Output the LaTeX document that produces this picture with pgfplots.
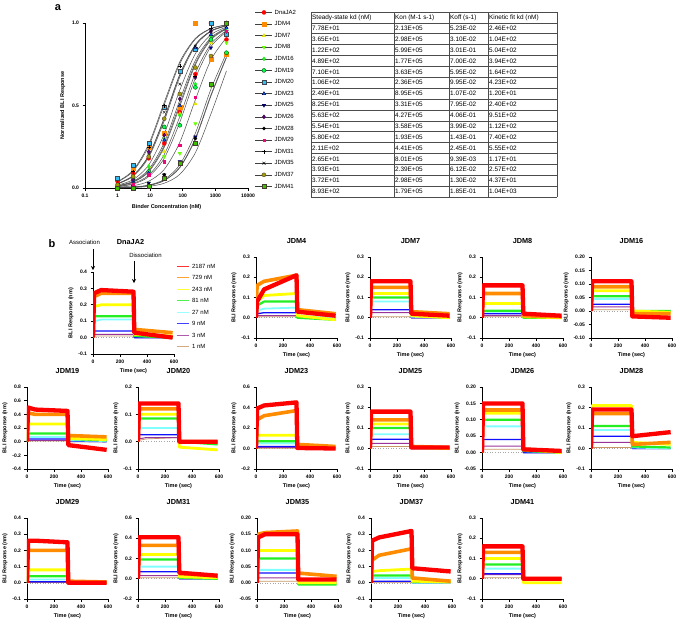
\documentclass[border=0pt]{standalone}
\usepackage{pgfplots}
\pgfplotsset{compat=1.18}
\usetikzlibrary{arrows.meta}
\usepackage{fontspec}
\setmainfont{Liberation Sans}
\definecolor{cRed}{HTML}{FF0000}
\definecolor{cOrange}{HTML}{FF8C00}
\definecolor{cYellow}{HTML}{FFFF00}
\definecolor{cGreen}{HTML}{22EE22}
\definecolor{cCyan}{HTML}{80FFFF}
\definecolor{cBlue}{HTML}{1010FF}
\definecolor{cPurple}{HTML}{993399}
\definecolor{cBrown}{HTML}{C89664}
\newcommand{\tf}{\fontsize{5}{6}\selectfont\bfseries}
\newcommand{\lf}{\fontsize{5.5}{6.5}\selectfont\bfseries}
\newcommand{\ttf}{\fontsize{7.3}{8}\selectfont\bfseries}
\newcommand{\bli}[6]{\addplot[#1] coordinates {(0,0) (8,#2) (60,#3) (300,#4) (306,#5) (590,#6)};}
\pgfplotsset{
 gp/.style={scale only axis, anchor=south west, axis lines*=left,
   axis line style={line width=0.8pt,-}, tick style={black,line width=0.8pt},
   tick align=outside, major tick length=2.5pt, tick label style={font=\tf},
   label style={font=\lf}, /pgf/number format/assume math mode=true},
 bliax/.style={gp, width=81pt, height=81pt, xmin=0, xmax=600, xtick={0,200,400,600},
   xlabel={Time (sec)}, ylabel={BLI Response (nm)}, title style={font=\ttf, yshift=4pt},
   yticklabel style={/pgf/number format/fixed,/pgf/number format/fixed zerofill,/pgf/number format/precision=1},
   xlabel style={yshift=2pt}, ylabel style={yshift=-2pt}},
 p2/.style={yticklabel style={/pgf/number format/precision=2}},
 s1/.style={color=cBrown, line width=0.7pt, line join=round},
 s3/.style={color=cPurple, line width=1pt, line join=round},
 s9/.style={color=cBlue, line width=1.3pt, line join=round},
 s27/.style={color=cCyan, line width=1.8pt, line join=round},
 s81/.style={color=cGreen, line width=2.2pt, line join=round},
 s243/.style={color=cYellow, line width=2.8pt, line join=round},
 s729/.style={color=cOrange, line width=3.6pt, line join=round},
 s2187/.style={color=cRed, line width=4.3pt, line join=round},
 zl/.style={gray!70, dotted, line width=0.6pt, forget plot},
 lg/.style={legend image code/.code={\draw[mark=none, black!75, line width=0.5pt] (0pt,0pt) -- (17pt,0pt); \draw plot coordinates {(8.5pt,0pt)};}},
 dat/.style={only marks, mark size=2pt, lg},
 fitc/.style={black!70, line width=0.5pt, smooth, forget plot},
}
\begin{document}
\begin{tikzpicture}
\path[use as bounding box] (0pt,0pt) rectangle (680pt,-625pt);
\node[font=\fontsize{11}{12}\selectfont\bfseries] at (58pt,-8pt) {a};
\node[font=\fontsize{11}{12}\selectfont\bfseries] at (52pt,-244pt) {b};
% ---------------- panel a -----------------
\begin{axis}[gp, width=163pt, height=165pt, at={(85pt,-188pt)}, xmode=log, xmin=0.1, xmax=10000, ymin=0, ymax=1,
  xtick={0.1,1,10,100,1000,10000}, xticklabels={0.1,1,10,100,1000,10000}, xminorticks=false,
  ytick={0,0.5,1}, yticklabels={0.0,0.5,1.0}, clip=false,
  xlabel={Binder Concentration (nM)}, ylabel={Normalized BLI Response},
  legend style={at={(1.043,1.085)}, anchor=north west, draw=none, fill=none, inner sep=0pt,
    font=\fontsize{6}{7}\selectfont, row sep=5.1pt, column sep=2pt,
    nodes={inner sep=0pt, text height=5pt, text depth=1.5pt}},
  legend cell align=left]
\addplot[fitc] coordinates {(1,0.013)(3,0.037)(9,0.104)(27,0.258)(81,0.510)(243,0.757)(729,0.904)(2187,0.966)};
\addplot[fitc] coordinates {(1,0.027)(3,0.076)(9,0.198)(27,0.425)(81,0.689)(243,0.869)(729,0.952)(2187,0.984)};
\addplot[fitc] coordinates {(1,0.008)(3,0.024)(9,0.069)(27,0.181)(81,0.399)(243,0.666)(729,0.857)(2187,0.947)};
\addplot[fitc] coordinates {(1,0.002)(3,0.006)(9,0.018)(27,0.052)(81,0.142)(243,0.332)(729,0.599)(2187,0.817)};
\addplot[fitc] coordinates {(1,0.014)(3,0.041)(9,0.113)(27,0.276)(81,0.533)(243,0.774)(729,0.911)(2187,0.969)};
\addplot[fitc] coordinates {(1,0.009)(3,0.028)(9,0.078)(27,0.203)(81,0.433)(243,0.696)(729,0.873)(2187,0.954)};
\addplot[fitc] coordinates {(1,0.039)(3,0.108)(9,0.266)(27,0.520)(81,0.765)(243,0.907)(729,0.967)(2187,0.989)};
\addplot[fitc] coordinates {(1,0.012)(3,0.035)(9,0.098)(27,0.247)(81,0.495)(243,0.747)(729,0.898)(2187,0.964)};
\addplot[fitc] coordinates {(1,0.002)(3,0.005)(9,0.016)(27,0.046)(81,0.126)(243,0.302)(729,0.564)(2187,0.795)};
\addplot[fitc] coordinates {(1,0.018)(3,0.051)(9,0.140)(27,0.328)(81,0.594)(243,0.814)(729,0.929)(2187,0.975)};
\addplot[fitc] coordinates {(1,0.002)(3,0.005)(9,0.015)(27,0.045)(81,0.123)(243,0.295)(729,0.557)(2187,0.790)};
\addplot[fitc] coordinates {(1,0.005)(3,0.014)(9,0.041)(27,0.113)(81,0.277)(243,0.535)(729,0.776)(2187,0.912)};
\addplot[fitc] coordinates {(1,0.036)(3,0.102)(9,0.254)(27,0.505)(81,0.754)(243,0.902)(729,0.965)(2187,0.988)};
\addplot[fitc] coordinates {(1,0.025)(3,0.071)(9,0.186)(27,0.407)(81,0.673)(243,0.861)(729,0.949)(2187,0.982)};
\addplot[fitc] coordinates {(1,0.026)(3,0.075)(9,0.195)(27,0.421)(81,0.685)(243,0.867)(729,0.952)(2187,0.983)};
\addplot[fitc] coordinates {(1,0.001)(3,0.003)(9,0.010)(27,0.029)(81,0.083)(243,0.214)(729,0.449)(2187,0.710)};
%
\addplot[dat, mark=*, color=cRed] coordinates {(1,0.04)(3,0.09)(9,0.18)(27,0.27)(81,0.46)(243,0.69)(729,1.00)(2187,0.90)};
\addlegendentry{DnaJA2}
\addplot[dat, mark=square*, color=cOrange] coordinates {(1,0.00)(3,0.12)(9,0.25)(27,0.33)(81,0.49)(243,1.00)(729,0.78)(2187,0.81)};
\addlegendentry{JDM4}
\addplot[dat, mark=triangle*, color=cYellow!90!black] coordinates {(1,0.01)(3,0.04)(9,0.13)(27,0.22)(81,0.45)(243,0.51)(729,0.88)(2187,1.00)};
\addlegendentry{JDM7}
\addplot[dat, mark=triangle*, mark options={rotate=180}, color=green!60!yellow] coordinates {(1,0.00)(3,0.01)(9,0.03)(27,0.19)(81,0.21)(243,0.39)(729,0.62)(2187,0.88)};
\addlegendentry{JDM8}
\addplot[dat, mark=diamond*, color=cGreen] coordinates {(1,0.02)(3,0.05)(9,0.13)(27,0.30)(81,0.44)(243,0.63)(729,0.92)(2187,0.95)};
\addlegendentry{JDM16}
\addplot[dat, mark=*, mark options={fill=green!70!cyan, draw=green!30!black}] coordinates {(1,0.01)(3,0.05)(9,0.10)(27,0.37)(81,0.38)(243,0.61)(729,0.90)(2187,0.82)};
\addlegendentry{JDM19}
\addplot[dat, mark=square*, mark options={fill=cyan!80!white, draw=cyan!20!black}] coordinates {(1,0.06)(3,0.14)(9,0.27)(27,0.49)(81,0.71)(243,0.84)(729,1.00)(2187,0.93)};
\addlegendentry{JDM20}
\addplot[dat, mark=triangle*, mark options={fill=blue!60!cyan, draw=blue!30!black}] coordinates {(1,0.02)(3,0.04)(9,0.09)(27,0.29)(81,0.50)(243,0.85)(729,0.93)(2187,0.97)};
\addlegendentry{JDM23}
\addplot[dat, mark=triangle*, mark options={rotate=180, fill=blue!60!black, draw=blue!30!black}] coordinates {(1,0.00)(3,0.01)(9,0.03)(27,0.08)(81,0.16)(243,0.31)(729,0.85)(2187,0.95)};
\addlegendentry{JDM25}
\addplot[dat, mark=diamond*, mark options={fill=violet!80!blue, draw=violet!40!black}] coordinates {(1,0.02)(3,0.05)(9,0.22)(27,0.32)(81,0.54)(243,0.67)(729,0.95)(2187,1.00)};
\addlegendentry{JDM26}
\addplot[dat, mark=*, mark size=1.6pt, color=black] coordinates {(1,0.00)(3,0.01)(9,0.02)(27,0.08)(81,0.15)(243,0.30)(729,0.63)(2187,1.00)};
\addlegendentry{JDM28}
\addplot[dat, mark=square*, mark size=1.2pt, color=magenta!80!red] coordinates {(1,0.01)(3,0.02)(9,0.08)(27,0.16)(81,0.26)(243,0.55)(729,0.80)(2187,0.95)};
\addlegendentry{JDM29}
\addplot[dat, mark=+, color=black] coordinates {(1,0.03)(3,0.10)(9,0.25)(27,0.50)(81,0.74)(243,0.68)(729,0.97)(2187,0.99)};
\addlegendentry{JDM31}
\addplot[dat, mark=x, color=black] coordinates {(1,0.02)(3,0.07)(9,0.20)(27,0.46)(81,0.63)(243,0.86)(729,0.95)(2187,0.98)};
\addlegendentry{JDM35}
\addplot[dat, mark=*, mark options={fill=olive!80!yellow, draw=olive!40!black}] coordinates {(1,0.02)(3,0.07)(9,0.19)(27,0.42)(81,0.57)(243,0.73)(729,0.80)(2187,1.00)};
\addlegendentry{JDM37}
\addplot[dat, mark=square*, mark options={fill=green!50!olive, draw=olive!30!black}] coordinates {(1,0.00)(3,0.00)(9,0.01)(27,0.06)(81,0.15)(243,0.27)(729,0.63)(2187,1.00)};
\addlegendentry{JDM41}
\end{axis}
% ---------------- table -----------------
\foreach \i in {0,...,17} {\draw[black!70, line width=0.6pt] (311pt,{-12pt-\i*10.88pt}) -- (557pt,{-12pt-\i*10.88pt});}
\foreach \x in {311,394,449,488,557} {\draw[black!70, line width=0.6pt] (\x pt,-12pt) -- (\x pt,-197pt);}
\begin{scope}[every node/.style={anchor=west, inner sep=0pt, font=\fontsize{6.4}{7}\selectfont}]
\node at (312pt,-17.4pt) {Steady-state kd (nM)};
\node at (395pt,-17.4pt) {Kon (M-1 s-1)};
\node at (450pt,-17.4pt) {Koff (s-1)};
\node at (489pt,-17.4pt) {Kinetic fit kd (nM)};
\foreach \r/\a/\b/\c/\d in {1/7.78E+01/2.13E+05/5.23E-02/2.46E+02, 2/3.65E+01/2.98E+05/3.10E-02/1.04E+02,
 3/1.22E+02/5.99E+05/3.01E-01/5.04E+02, 4/4.89E+02/1.77E+05/7.00E-02/3.94E+02,
 5/7.10E+01/3.63E+05/5.95E-02/1.64E+02, 6/1.06E+02/2.36E+05/9.95E-02/4.23E+02,
 7/2.49E+01/8.95E+05/1.07E-02/1.20E+01, 8/8.25E+01/3.31E+05/7.95E-02/2.40E+02,
 9/5.63E+02/4.27E+05/4.06E-01/9.51E+02, 10/5.54E+01/3.58E+05/3.99E-02/1.12E+02,
 11/5.80E+02/1.93E+05/1.43E-01/7.40E+02, 12/2.11E+02/4.41E+05/2.45E-01/5.55E+02,
 13/2.65E+01/8.01E+05/9.39E-03/1.17E+01, 14/3.93E+01/2.39E+05/6.12E-02/2.57E+02,
 15/3.72E+01/2.98E+05/1.30E-02/4.37E+01, 16/8.93E+02/1.79E+05/1.85E-01/1.04E+03} {
 \node at (312pt,{-17.4pt-\r*10.88pt}) {\a};
 \node at (395pt,{-17.4pt-\r*10.88pt}) {\b};
 \node at (450pt,{-17.4pt-\r*10.88pt}) {\c};
 \node at (489pt,{-17.4pt-\r*10.88pt}) {\d};
}
\end{scope}
% ---------------- panel b annotations -----------------
\node[font=\fontsize{6}{7}\selectfont] at (84.5pt,-242.7pt) {Association};
\draw[-{Stealth[length=4pt,width=4pt]}, line width=1pt] (93pt,-249pt) -- (93pt,-270pt);
\node[font=\fontsize{6}{7}\selectfont] at (145.5pt,-255.7pt) {Dissociation};
\draw[-{Stealth[length=4pt,width=4pt]}, line width=1pt] (134pt,-261pt) -- (134pt,-283pt);
% DnaJA2
\begin{axis}[bliax, height=82pt, at={(93pt,-354pt)}, title={DnaJA2}, title style={yshift=14pt, xshift=-3pt},
  ymin=-0.1, ymax=0.4, ytick={-0.1,0,0.1,0.2,0.3,0.4},
  legend style={at={(1.025,1.11)}, anchor=north west, draw=none, fill=none, inner sep=0pt,
    font=\fontsize{6}{7}\selectfont, row sep=5pt, column sep=3pt,
    nodes={inner sep=0pt, text height=5pt, text depth=1.5pt}},
  legend cell align=left, reverse legend,
  legend image code/.code={\draw[line width=0.9pt, opacity=0.8] (0pt,0pt) -- (12pt,0pt);}]
\addplot[zl] coordinates {(0,0)(600,0)};
\bli{s1}{0.01}{0.01}{0.01}{0}{0}
\bli{s3}{0.02}{0.02}{0.02}{0}{0}
\bli{s9}{0.04}{0.04}{0.04}{0}{0}
\bli{s27}{0.10}{0.11}{0.11}{0.01}{0}
\bli{s81}{0.13}{0.13}{0.13}{0.01}{0}
\bli{s243}{0.19}{0.20}{0.20}{0.02}{0.01}
\bli{s729}{0.25}{0.27}{0.27}{0.05}{0.03}
\bli{s2187}{0.27}{0.29}{0.28}{0.03}{0.0}
\legend{1 nM,3 nM,9 nM,27 nM,81 nM,243 nM,729 nM,2187 nM}
\end{axis}
% JDM4
\begin{axis}[bliax, at={(256pt,-338pt)}, title={JDM4}, ymin=-0.1, ymax=0.3, ytick={-0.1,0,0.1,0.2,0.3}]
\addplot[zl] coordinates {(0,0)(600,0)};
\bli{s1}{0.005}{0.005}{0.005}{0}{0}
\bli{s3}{0.01}{0.01}{0.01}{0}{0}
\bli{s9}{0.02}{0.025}{0.025}{0}{0}
\bli{s27}{0.035}{0.045}{0.05}{0.01}{0}
\bli{s81}{0.06}{0.08}{0.08}{0}{-0.01}
\bli{s243}{0.08}{0.11}{0.12}{0.01}{-0.01}
\bli{s729}{0.16}{0.18}{0.21}{0.04}{0.02}
\bli{s2187}{0.08}{0.14}{0.21}{0.03}{0.01}
\end{axis}
% JDM7
\begin{axis}[bliax, at={(370pt,-338pt)}, title={JDM7}, ymin=-0.1, ymax=0.3, ytick={-0.1,0,0.1,0.2,0.3}]
\addplot[zl] coordinates {(0,0)(600,0)};
\bli{s1}{0.005}{0.005}{0.005}{0}{0}
\bli{s3}{0.025}{0.025}{0.025}{0}{0}
\bli{s9}{0.04}{0.04}{0.04}{0}{0}
\bli{s27}{0.08}{0.08}{0.08}{0.005}{0}
\bli{s81}{0.10}{0.10}{0.10}{0.01}{0}
\bli{s243}{0.12}{0.12}{0.12}{0.01}{0}
\bli{s729}{0.15}{0.15}{0.15}{0.03}{0.02}
\bli{s2187}{0.18}{0.18}{0.18}{0.02}{0.01}
\end{axis}
% JDM8
\begin{axis}[bliax, at={(482pt,-338pt)}, title={JDM8}, ymin=-0.1, ymax=0.3, ytick={-0.1,0,0.1,0.2,0.3}]
\addplot[zl] coordinates {(0,0)(600,0)};
\bli{s1}{0.005}{0.005}{0.005}{0}{0}
\bli{s3}{0.01}{0.01}{0.01}{0}{0}
\bli{s9}{0.02}{0.02}{0.02}{0}{0}
\bli{s27}{0.03}{0.03}{0.03}{0}{0}
\bli{s81}{0.035}{0.035}{0.035}{0}{0}
\bli{s243}{0.07}{0.07}{0.07}{0.005}{0}
\bli{s729}{0.12}{0.12}{0.12}{0.01}{0.005}
\bli{s2187}{0.16}{0.16}{0.16}{0.02}{0.01}
\end{axis}
% JDM16
\begin{axis}[bliax, p2, at={(591pt,-338pt)}, title={JDM16}, ymin=-0.1, ymax=0.2, ytick={-0.1,-0.05,0,0.05,0.1,0.15,0.2}]
\addplot[zl] coordinates {(0,0)(600,0)};
\bli{s1}{0.005}{0.005}{0.005}{0}{0}
\bli{s3}{0.015}{0.015}{0.015}{0}{0}
\bli{s9}{0.025}{0.025}{0.025}{0}{0}
\bli{s27}{0.045}{0.045}{0.045}{0}{0}
\bli{s81}{0.055}{0.055}{0.055}{0}{0}
\bli{s243}{0.075}{0.075}{0.075}{0}{-0.005}
\bli{s729}{0.09}{0.09}{0.09}{-0.01}{-0.01}
\bli{s2187}{0.11}{0.11}{0.11}{-0.02}{-0.025}
\end{axis}
% JDM19
\begin{axis}[bliax, at={(27pt,-469pt)}, height=82pt, title={JDM19}, ymin=-0.4, ymax=0.8, ytick={-0.4,-0.2,0,0.2,0.4,0.6,0.8}]
\addplot[zl] coordinates {(0,0)(600,0)};
\bli{s1}{0.01}{0.01}{0.01}{0}{0}
\bli{s3}{0.02}{0.02}{0.02}{0}{0}
\bli{s9}{0.04}{0.04}{0.04}{0.01}{0}
\bli{s27}{0.07}{0.07}{0.07}{0.02}{0.01}
\bli{s81}{0.12}{0.12}{0.12}{0.04}{0.02}
\bli{s243}{0.26}{0.26}{0.26}{0.05}{0.03}
\bli{s729}{0.42}{0.40}{0.40}{0.09}{0.07}
\bli{s2187}{0.50}{0.47}{0.45}{-0.05}{-0.12}
\end{axis}
% JDM20
\begin{axis}[bliax, at={(138pt,-469pt)}, height=82pt, title={JDM20}, ymin=-0.1, ymax=0.2, ytick={-0.1,0,0.1,0.2}]
\addplot[zl] coordinates {(0,0)(600,0)};
\bli{s1}{0.005}{0.01}{0.015}{0}{0}
\bli{s3}{0.01}{0.015}{0.015}{0}{0}
\bli{s9}{0.025}{0.025}{0.025}{0}{0}
\bli{s27}{0.05}{0.05}{0.05}{0}{0}
\bli{s81}{0.085}{0.085}{0.085}{0}{-0.01}
\bli{s243}{0.10}{0.10}{0.10}{-0.02}{-0.03}
\bli{s729}{0.12}{0.12}{0.12}{0}{0}
\bli{s2187}{0.14}{0.14}{0.14}{0}{0}
\end{axis}
% JDM23
\begin{axis}[bliax, at={(256pt,-469pt)}, height=82pt, title={JDM23}, ymin=-0.2, ymax=0.6, ytick={-0.2,0,0.2,0.4,0.6}]
\addplot[zl] coordinates {(0,0)(600,0)};
\bli{s1}{0.003}{0.003}{0.003}{0}{0}
\bli{s3}{0.01}{0.01}{0.01}{0}{0}
\bli{s9}{0.02}{0.02}{0.02}{0}{0}
\bli{s27}{0.05}{0.05}{0.05}{0}{0}
\bli{s81}{0.07}{0.07}{0.07}{0.005}{0}
\bli{s243}{0.13}{0.13}{0.13}{0.01}{0}
\bli{s729}{0.28}{0.32}{0.37}{0.04}{0.02}
\bli{s2187}{0.39}{0.42}{0.45}{0.005}{0}
\end{axis}
% JDM25
\begin{axis}[bliax, at={(370pt,-469pt)}, height=82pt, title={JDM25}, ymin=-0.1, ymax=0.3, ytick={-0.1,0,0.1,0.2,0.3}]
\addplot[zl] coordinates {(0,0)(600,0)};
\bli{s1}{0.01}{0.01}{0.01}{0}{0}
\bli{s3}{0.025}{0.025}{0.025}{0}{0}
\bli{s9}{0.045}{0.045}{0.045}{0}{0}
\bli{s27}{0.07}{0.07}{0.07}{0}{0}
\bli{s81}{0.10}{0.10}{0.10}{0.005}{0}
\bli{s243}{0.12}{0.12}{0.12}{0.005}{0}
\bli{s729}{0.14}{0.14}{0.14}{0.01}{0.005}
\bli{s2187}{0.18}{0.18}{0.18}{0.005}{0.005}
\end{axis}
% JDM26
\begin{axis}[bliax, p2, at={(482pt,-469pt)}, height=82pt, title={JDM26}, ymin=-0.05, ymax=0.2, ytick={-0.05,0,0.05,0.1,0.15,0.2}]
\addplot[zl] coordinates {(0,0)(600,0)};
\bli{s1}{0.01}{0.01}{0.01}{0}{0}
\bli{s3}{0.02}{0.02}{0.02}{0}{0}
\bli{s9}{0.04}{0.04}{0.04}{0}{0}
\bli{s27}{0.08}{0.08}{0.08}{0.005}{0}
\bli{s81}{0.10}{0.10}{0.10}{0.005}{0}
\bli{s243}{0.12}{0.12}{0.12}{0.01}{0}
\bli{s729}{0.13}{0.13}{0.13}{0.01}{0.005}
\bli{s2187}{0.15}{0.15}{0.15}{0.01}{0.005}
\end{axis}
% JDM28
\begin{axis}[bliax, at={(591pt,-469pt)}, height=82pt, title={JDM28}, ymin=-0.1, ymax=0.3, ytick={-0.1,0,0.1,0.2,0.3}]
\addplot[zl] coordinates {(0,0)(600,0)};
\bli{s1}{0.005}{0.005}{0.005}{0}{0}
\bli{s3}{0.03}{0.03}{0.03}{0}{0}
\bli{s9}{0.06}{0.06}{0.06}{0}{0}
\bli{s27}{0.09}{0.09}{0.09}{0.005}{0}
\bli{s81}{0.11}{0.11}{0.11}{0.01}{0.005}
\bli{s243}{0.21}{0.21}{0.21}{0.03}{0.02}
\bli{s729}{0.17}{0.17}{0.17}{0.02}{0.03}
\bli{s2187}{0.19}{0.19}{0.19}{0.06}{0.08}
\end{axis}
% JDM29
\begin{axis}[bliax, at={(27pt,-599pt)}, title={JDM29}, ymin=-0.1, ymax=0.4, ytick={-0.1,0,0.1,0.2,0.3,0.4}]
\addplot[zl] coordinates {(0,0)(600,0)};
\bli{s1}{0.002}{0.002}{0.002}{0}{0}
\bli{s3}{0.004}{0.004}{0.004}{0}{0}
\bli{s9}{0.006}{0.006}{0.006}{0}{0}
\bli{s27}{0.02}{0.02}{0.02}{0}{0}
\bli{s81}{0.04}{0.04}{0.04}{0}{0}
\bli{s243}{0.08}{0.08}{0.08}{0.005}{0}
\bli{s729}{0.20}{0.20}{0.20}{0.01}{0.005}
\bli{s2187}{0.26}{0.26}{0.25}{0}{0}
\end{axis}
% JDM31
\begin{axis}[bliax, at={(138pt,-599pt)}, title={JDM31}, ymin=-0.2, ymax=0.6, ytick={-0.2,0,0.2,0.4,0.6}]
\addplot[zl] coordinates {(0,0)(600,0)};
\bli{s1}{0.01}{0.01}{0.01}{0}{0}
\bli{s3}{0.03}{0.03}{0.03}{0}{0}
\bli{s9}{0.07}{0.07}{0.07}{0}{0}
\bli{s27}{0.12}{0.12}{0.12}{0.01}{0}
\bli{s81}{0.19}{0.19}{0.19}{0.01}{0}
\bli{s243}{0.24}{0.24}{0.24}{0.02}{0.01}
\bli{s729}{0.33}{0.33}{0.33}{0.05}{0.03}
\bli{s2187}{0.41}{0.41}{0.41}{0.06}{0.03}
\end{axis}
% JDM35
\begin{axis}[bliax, p2, at={(257pt,-599pt)}, title={JDM35}, ymin=-0.05, ymax=0.2, ytick={-0.05,0,0.05,0.1,0.15,0.2}]
\addplot[zl] coordinates {(0,0)(600,0)};
\bli{s1}{0.005}{0.005}{0.005}{0}{0}
\bli{s3}{0.015}{0.015}{0.015}{0}{0}
\bli{s9}{0.03}{0.03}{0.03}{0}{0}
\bli{s27}{0.04}{0.04}{0.04}{0}{0}
\bli{s81}{0.075}{0.075}{0.075}{-0.005}{-0.005}
\bli{s243}{0.10}{0.10}{0.10}{0}{0}
\bli{s729}{0.15}{0.155}{0.16}{0.03}{0.02}
\bli{s2187}{0.14}{0.15}{0.15}{0.01}{0.01}
\end{axis}
% JDM37
\begin{axis}[bliax, at={(371pt,-599pt)}, title={JDM37}, ymin=-0.1, ymax=0.4, ytick={-0.1,0,0.1,0.2,0.3,0.4}]
\addplot[zl] coordinates {(0,0)(600,0)};
\bli{s1}{0.003}{0.003}{0.003}{0}{0}
\bli{s3}{0.008}{0.008}{0.008}{0}{0}
\bli{s9}{0.01}{0.01}{0.01}{0}{0}
\bli{s27}{0.03}{0.03}{0.03}{0}{0}
\bli{s81}{0.045}{0.045}{0.045}{0.005}{0.005}
\bli{s243}{0.07}{0.075}{0.085}{0.01}{0.005}
\bli{s729}{0.14}{0.17}{0.21}{0.03}{0.01}
\bli{s2187}{0.26}{0.28}{0.32}{0.09}{0.07}
\end{axis}
% JDM41
\begin{axis}[bliax, at={(482pt,-599pt)}, title={JDM41}, ymin=-0.1, ymax=0.3, ytick={-0.1,0,0.1,0.2,0.3}]
\addplot[zl] coordinates {(0,0)(600,0)};
\bli{s1}{0.005}{0.005}{0.005}{0}{0}
\bli{s3}{0.02}{0.02}{0.02}{0}{0}
\bli{s9}{0.025}{0.025}{0.025}{0}{0}
\bli{s27}{0.05}{0.05}{0.05}{0}{0}
\bli{s81}{0.07}{0.07}{0.07}{0}{0}
\bli{s243}{0.10}{0.10}{0.10}{-0.02}{-0.02}
\bli{s729}{0.13}{0.13}{0.13}{0}{0}
\bli{s2187}{0.16}{0.16}{0.16}{0}{0}
\end{axis}
\end{tikzpicture}
\end{document}
